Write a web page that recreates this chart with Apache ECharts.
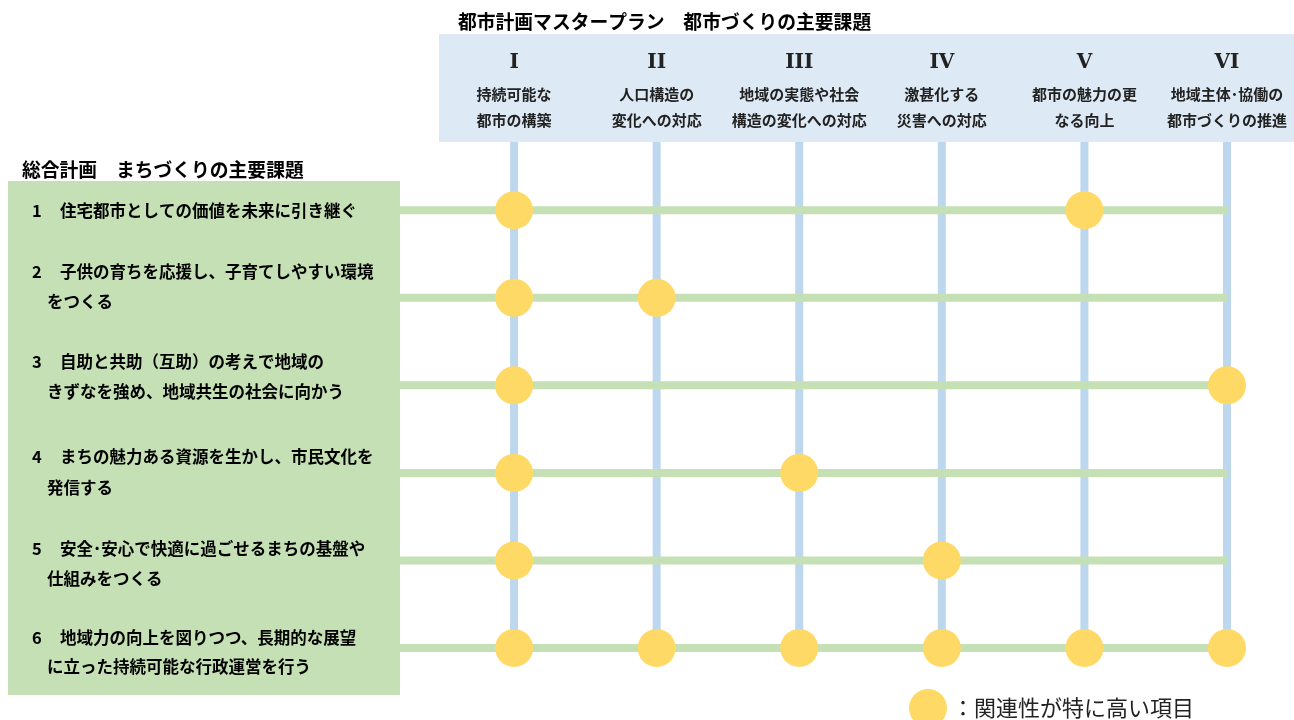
<!DOCTYPE html>
<html>
<head>
<meta charset="utf-8">
<script src="https://cdn.jsdelivr.net/npm/echarts@6/dist/echarts.min.js"></script>
<style>
html,body{margin:0;padding:0;background:#fff;}
#main{width:1294px;height:720px;}
</style>
</head>
<body>
<div id="main"></div>
<script>
// ---- data ----
const topTitle = '都市計画マスタープラン　都市づくりの主要課題';
const leftTitle = '総合計画　まちづくりの主要課題';
const columnNumerals = ['I', 'II', 'III', 'IV', 'V', 'VI'];
const columnLabels = [
  ['持続可能な', '都市の構築'],
  ['人口構造の', '変化への対応'],
  ['地域の実態や社会', '構造の変化への対応'],
  ['激甚化する', '災害への対応'],
  ['都市の魅力の更', 'なる向上'],
  ['地域主体･協働の', '都市づくりの推進']
];
const rowNumbers = ['1', '2', '3', '4', '5', '6'];
const rowLabels = [
  ['住宅都市としての価値を未来に引き継ぐ'],
  ['子供の育ちを応援し、子育てしやすい環境', 'をつくる'],
  ['自助と共助（互助）の考えで地域の', 'きずなを強め、地域共生の社会に向かう'],
  ['まちの魅力ある資源を生かし、市民文化を', '発信する'],
  ['安全･安心で快適に過ごせるまちの基盤や', '仕組みをつくる'],
  ['地域力の向上を図りつつ、長期的な展望', 'に立った持続可能な行政運営を行う']
];
// [column index, row index] of highly related pairs
const relations = [
  [0, 0], [4, 0],
  [0, 1], [1, 1],
  [0, 2], [5, 2],
  [0, 3], [2, 3],
  [0, 4], [3, 4],
  [0, 5], [1, 5], [2, 5], [3, 5], [4, 5], [5, 5]
];
const legendLabel = '：関連性が特に高い項目';

// ---- layout ----
const FONT = '"Noto Sans CJK JP", "Noto Sans", sans-serif';
const rowTextY = [[211], [272, 302], [362, 392], [457, 488], [549, 579], [638, 667]];
const colLineTop = -0.78;   // in row units (header box bottom)
const rowLineLeft = -0.8;   // in column units (green box right edge)

const chart = echarts.init(document.getElementById('main'), null, {renderer: 'canvas'});

const series = [];
// vertical (blue) lines
columnNumerals.forEach((c, i) => {
  series.push({
    type: 'line', silent: true, symbol: 'none', z: 1,
    lineStyle: {color: '#bdd7ee', width: 8},
    data: [[i, colLineTop], [i, rowNumbers.length - 1]]
  });
});
// horizontal (green) lines
rowNumbers.forEach((r, j) => {
  series.push({
    type: 'line', silent: true, symbol: 'none', z: 2,
    lineStyle: {color: '#c5e0b4', width: 8},
    data: [[rowLineLeft, j], [columnNumerals.length - 1, j]]
  });
});
series.push({
  name: legendLabel,
  type: 'scatter', z: 5, clip: false,
  symbol: 'circle', symbolSize: 38,
  itemStyle: {color: '#ffd966', opacity: 1},
  data: relations
});

const option = {
  backgroundColor: '#ffffff',
  animation: false,
  grid: {left: 400, right: 67, top: 142, bottom: 72},
  xAxis: {type: 'value', min: rowLineLeft, max: columnNumerals.length - 1, show: false},
  yAxis: {type: 'value', min: colLineTop, max: rowNumbers.length - 1, inverse: true, show: false},
  legend: {
    left: 904, top: 684,
    itemWidth: 38, itemHeight: 38, itemGap: 0,
    icon: 'circle',
    selectedMode: false,
    data: [legendLabel],
    textStyle: {fontFamily: FONT, fontSize: 22, color: '#222', padding: [0, 0, 0, 0]}
  },
  series: series
};
chart.setOption(option);

// ---- text & boxes positioned from the chart scales ----
const g = [];
g.push({type: 'rect', z: 0, shape: {x: 439, y: 34, width: 855, height: 108}, style: {fill: '#dde9f5'}});
g.push({type: 'rect', z: 0, shape: {x: 8, y: 181, width: 392, height: 514}, style: {fill: '#c5e0b4'}});
g.push({type: 'text', z: 10, x: 458, y: 22, style: {text: topTitle, font: 'bold 18.8px ' + FONT, fill: '#000', verticalAlign: 'middle'}});
g.push({type: 'text', z: 10, x: 22, y: 170, style: {text: leftTitle, font: 'bold 18.8px ' + FONT, fill: '#000', verticalAlign: 'middle'}});

columnNumerals.forEach((c, i) => {
  const px = chart.convertToPixel({gridIndex: 0}, [i, 0])[0];
  g.push({type: 'text', z: 10, x: px, y: 63, style: {text: c, font: 'bold 20px "DejaVu Serif", serif', fill: '#222', align: 'center', verticalAlign: 'middle'}});
  columnLabels[i].forEach((t, k) => {
    g.push({type: 'text', z: 10, x: px, y: 94 + k * 26, style: {text: t, font: 'bold 15px ' + FONT, fill: '#222', align: 'center', verticalAlign: 'middle'}});
  });
});

rowNumbers.forEach((r, j) => {
  const ys = rowTextY[j];
  g.push({type: 'text', z: 10, x: 32, y: ys[0], style: {text: r, font: 'bold 16.5px ' + FONT, fill: '#000', verticalAlign: 'middle'}});
  rowLabels[j].forEach((t, k) => {
    g.push({type: 'text', z: 10, x: k === 0 ? 60 : 47, y: ys[k], style: {text: t, font: 'bold 16.5px ' + FONT, fill: '#000', verticalAlign: 'middle'}});
  });
});

chart.setOption({graphic: {elements: g}});
</script>
</body>
</html>
